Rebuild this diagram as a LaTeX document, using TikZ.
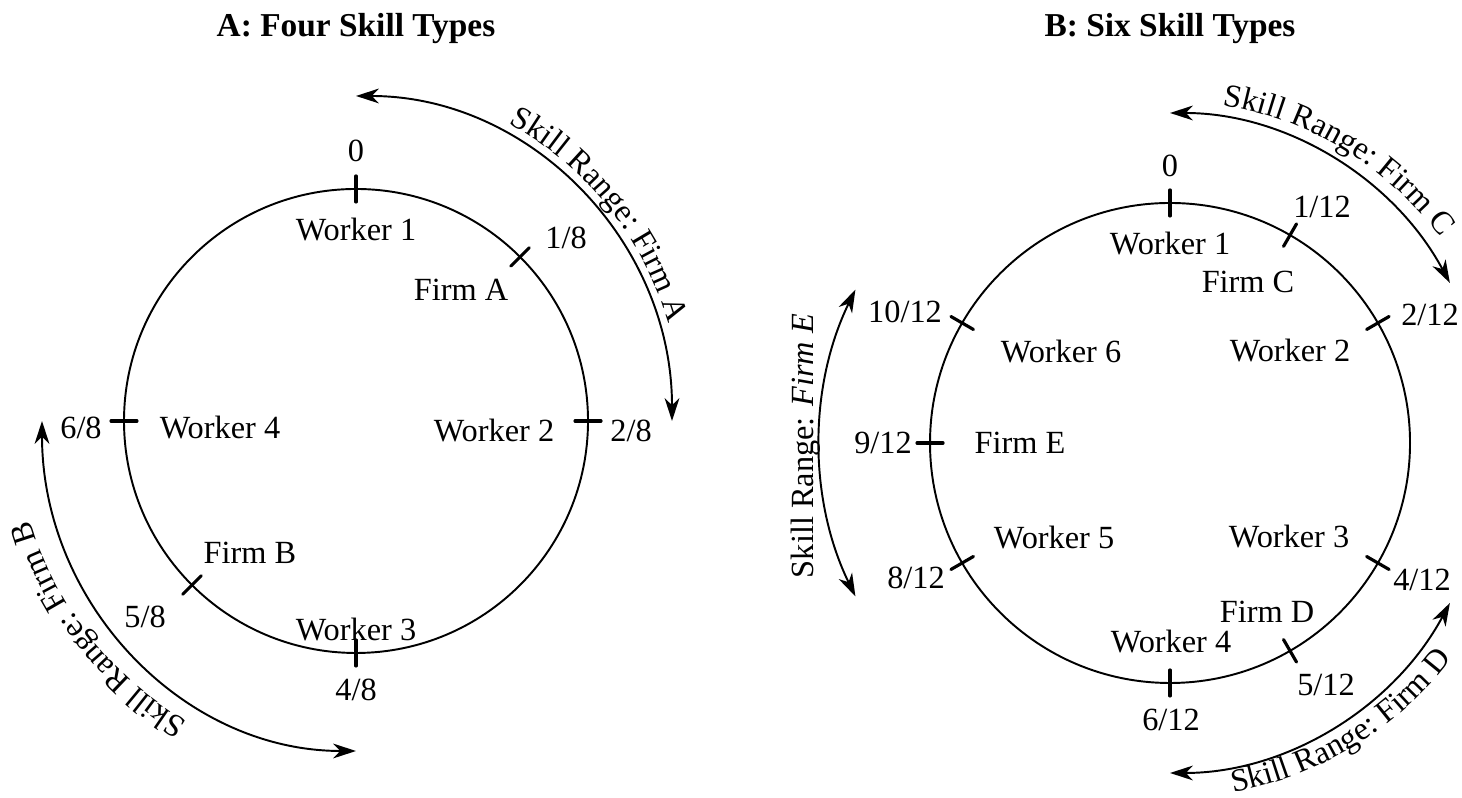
\documentclass[tikz,border=0pt]{standalone}
\usepackage{fontspec}
\setmainfont{Liberation Serif}
\usetikzlibrary{arrows.meta,decorations.text}
\newcommand{\lblfont}{\fontsize{9.2}{11}\selectfont}
\newcommand{\ttlfont}{\fontsize{9.5}{11}\selectfont\bfseries}

\begin{document}
\begin{tikzpicture}[line join=round, line cap=round, >={Stealth[length=6.5pt,width=4.2pt,inset=2pt]}, font=\lblfont,
	rim/.style={line width=0.55pt},
	tick/.style={line width=0.9pt},
	skillarc/.style={line width=0.55pt, <->},
	arctext/.style={decorate, decoration={text along path, text align=center, text={|\lblfont|#1}}}]
	\useasboundingbox (0,0) rectangle (14.62,7.98);
	\path
	(3.56,3.77) coordinate (L)
	(11.70,3.55) coordinate (R);
	
	% titles
	\node[font=\ttlfont] (ttlA) at (3.56,7.69) {A: Four Skill Types};
	\node[font=\ttlfont] (ttlB) at (11.70,7.69) {B: Six Skill Types};
	
	% panel A
	\draw[rim] (L) circle (2.32);
	\foreach \a in {90,45,0,-90,-135,180}
	\draw[tick] (L) ++(\a:2.19) -- ++(\a:0.26);
	
	\node (a0) at (3.56,6.47) {0};
	\node (aw1) at (3.56,5.68) {Worker 1};
	\node (a1) at (5.66,5.60) {1/8};
	\node (afa) at (4.61,5.08) {Firm A};
	\node (aw2) at (4.94,3.67) {Worker 2};
	\node (a2) at (6.31,3.67) {2/8};
	\node (a6) at (0.81,3.70) {6/8};
	\node (aw4) at (2.20,3.70) {Worker 4};
	\node (afb) at (2.50,2.45) {Firm B};
	\node (a5) at (1.45,1.81) {5/8};
	\node (aw3) at (3.56,1.68) {Worker 3};
	\node (a4) at (3.56,1.08) {4/8};
	
	\draw[skillarc, shift={(L)}] (90:3.16 and 3.25) arc (90:0:3.16 and 3.25);
	\draw[skillarc, shift={(L)}] (180:3.14 and 3.30) arc (180:270:3.14 and 3.30);
	\path[arctext={Skill Range: Firm A}, shift={(L)}] (67:3.27 and 3.36) arc (67:12:3.27 and 3.36);
	\path[arctext={Skill Range: Firm B}, shift={(L)}] (246:3.40 and 3.46) arc (246:191:3.40 and 3.46);
	
	% panel B
	\draw[rim] (R) circle (2.40);
	\foreach \a in {90,60,30,-30,-60,-90,-150,180,150}
	\draw[tick] (R) ++(\a:2.27) -- ++(\a:0.26);
	
	\node (b0) at (11.70,6.32) {0};
	\node (bw1) at (11.70,5.54) {Worker 1};
	\node (b1) at (13.22,5.91) {1/12};
	\node (bfc) at (12.48,5.16) {Firm C};
	\node (b2) at (14.30,4.83) {2/12};
	\node (bw2) at (12.90,4.47) {Worker 2};
	\node (b4) at (14.22,2.18) {4/12};
	\node (bw3) at (12.89,2.61) {Worker 3};
	\node (bfd) at (12.67,1.86) {Firm D};
	\node (b5) at (13.26,1.13) {5/12};
	\node (bw4) at (11.71,1.56) {Worker 4};
	\node (b6) at (11.71,0.78) {6/12};
	\node (b8) at (9.16,2.20) {8/12};
	\node (bw5) at (10.54,2.60) {Worker 5};
	\node (b9) at (8.83,3.55) {9/12};
	\node (bfe) at (10.20,3.55) {Firm E};
	\node (b10) at (9.05,4.86) {10/12};
	\node (bw6) at (10.61,4.46) {Worker 6};
	
	\draw[skillarc, shift={(R)}] (90:3.20 and 3.30) arc (90:29:3.20 and 3.30);
	\draw[skillarc, shift={(R)}] (-29:3.20 and 3.30) arc (-29:-90:3.20 and 3.30);
	\draw[skillarc, shift={(R)}] (154:3.50) arc (154:206:3.50);
	\path[arctext={Skill Range: Firm C}, shift={(R)}] (86:3.38 and 3.42) arc (86:32:3.38 and 3.42);
	\path[arctext={Skill Range: Firm D}, shift={(R)}] (-86:3.55) arc (-86:-31:3.55);
	\node[rotate=90] (rngE) at (8.06,3.52) {Skill Range: \textit{Firm E}};
\end{tikzpicture}
\end{document}
